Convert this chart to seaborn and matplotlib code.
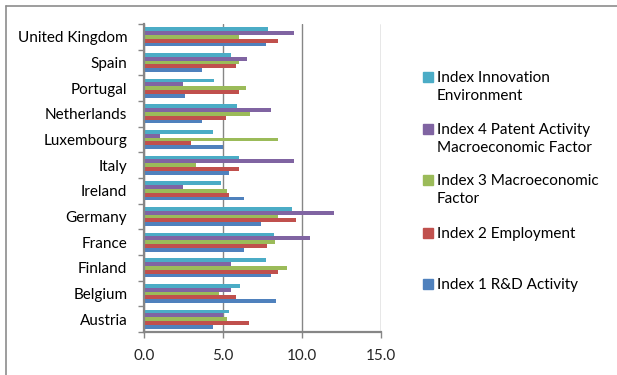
import matplotlib
matplotlib.use("Agg")
import matplotlib.pyplot as plt
from matplotlib.lines import Line2D
from matplotlib.patches import Rectangle
import pandas as pd
import seaborn as sns

# Countries, listed top to bottom
countries = ["United Kingdom", "Spain", "Portugal", "Netherlands", "Luxembourg",
             "Italy", "Ireland", "Germany", "France", "Finland", "Belgium", "Austria"]

innovation_env = [7.85, 5.5, 4.45, 5.9, 4.35, 6.0, 4.85, 9.35, 8.2, 7.7, 6.1, 5.35]
index4_patent = [9.5, 6.5, 2.45, 8.05, 1.0, 9.5, 2.45, 12.05, 10.5, 5.5, 5.5, 5.0]
index3_macro = [6.0, 6.0, 6.45, 6.7, 8.5, 3.3, 5.25, 8.5, 8.3, 9.05, 4.75, 5.25]
index2_employ = [8.45, 5.8, 6.0, 5.2, 3.0, 6.0, 5.4, 9.6, 7.8, 8.45, 5.8, 6.65]
index1_rd = [7.7, 3.7, 2.6, 3.7, 5.0, 5.35, 6.35, 7.4, 6.35, 8.05, 8.35, 4.35]

series_names = ["Index Innovation Environment",
                "Index 4 Patent Activity Macroeconomic Factor",
                "Index 3 Macroeconomic Factor",
                "Index 2 Employment",
                "Index 1 R&D Activity"]
legend_labels = ["Index Innovation\nEnvironment",
                 "Index 4 Patent Activity\nMacroeconomic Factor",
                 "Index 3 Macroeconomic\nFactor",
                 "Index 2 Employment",
                 "Index 1 R&D Activity"]
series_colors = ["#4BACC6", "#8064A2", "#9BBB59", "#C0504D", "#4F81BD"]
x_ticks = [0.0, 5.0, 10.0, 15.0]

series_values = [innovation_env, index4_patent, index3_macro, index2_employ, index1_rd]
rows = []
for name, vals in zip(series_names, series_values):
    for c, v in zip(countries, vals):
        rows.append({"country": c, "series": name, "value": v})
df = pd.DataFrame(rows)

sns.set_style("white")
plt.rcParams["font.family"] = ["Lato", "DejaVu Sans"]

W, H = 617, 375
fig = plt.figure(figsize=(W / 100, H / 100), dpi=100)
ax = fig.add_axes([144 / W, 1 - 332 / H, (381 - 144) / W, (332 - 24) / H])

sns.barplot(data=df, y="country", x="value", hue="series", order=countries,
            hue_order=series_names, palette=series_colors, orient="h",
            width=0.74, saturation=1, legend=False, ax=ax, errorbar=None,
            edgecolor="none")

grid_c = "#868686"
ax.set_xlim(0, 15)
ax.set_ylim(len(countries) - 0.5, -0.5)
ax.set_xticks(x_ticks)
ax.set_xticklabels([f"{t:.1f}" for t in x_ticks])
ax.set_xlabel("")
ax.set_ylabel("")
ax.xaxis.grid(True, color=grid_c, linewidth=1.0)
ax.yaxis.grid(False)
ax.set_axisbelow(True)

for s in ["top", "right"]:
    ax.spines[s].set_visible(False)
for s in ["left", "bottom"]:
    ax.spines[s].set_color(grid_c)
    ax.spines[s].set_linewidth(1.6)

# category ticks sit between groups
ax.set_yticks([i + 0.5 for i in range(-1, len(countries))], minor=True)
ax.tick_params(axis="y", which="major", length=0, pad=12, labelsize=11,
               labelcolor="#000000")
ax.tick_params(axis="y", which="minor", length=4, width=1, color=grid_c,
               direction="out", left=True)
ax.tick_params(axis="x", which="major", length=4, width=1, color=grid_c,
               direction="out", bottom=True, pad=8, labelsize=11)

# legend drawn as a column of swatches with wrapped labels
legend_y = [77, 129, 180, 233, 284]
for lbl, col, yc in zip(legend_labels, series_colors, legend_y):
    fig.patches.append(Rectangle((423 / W, 1 - (yc + 5) / H), 10 / W, 10 / H,
                                 transform=fig.transFigure, color=col))
    fig.text(437 / W, 1 - (yc - 6) / H, lbl, ha="left", va="top",
             fontsize=11, linespacing=1.35, color="#000000")

# chart frame
frame_c = "#8c8c8c"
fig.add_artist(Line2D([5.5 / W, 1], [1 - 5.5 / H, 1 - 5.5 / H],
                      transform=fig.transFigure, color=frame_c, linewidth=1.2))
fig.add_artist(Line2D([5.5 / W, 5.5 / W], [1 - 5.5 / H, 0],
                      transform=fig.transFigure, color=frame_c, linewidth=1.2))

fig.savefig("out.png", dpi=100)
